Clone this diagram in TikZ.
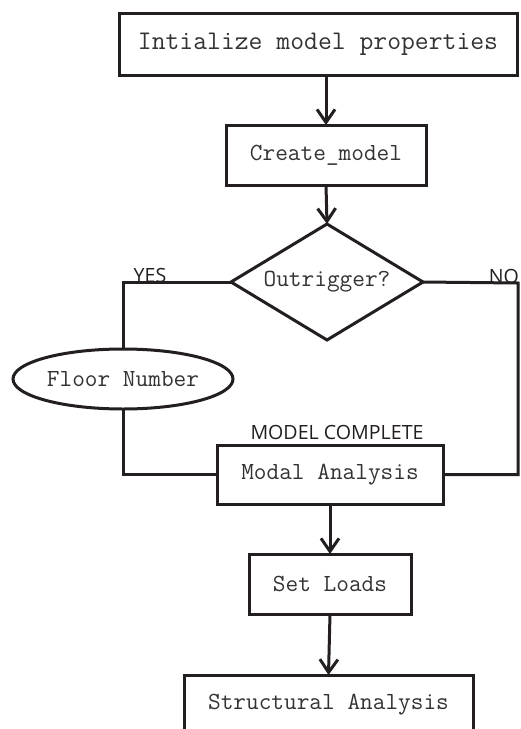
\documentclass[tikz,border=0pt]{standalone}
\usepackage{fontspec}
\setmainfont{Open Sans}
\usetikzlibrary{shapes.geometric,arrows.meta}
\definecolor{ink}{HTML}{231F20}
\definecolor{txt}{HTML}{333333}
\begin{document}
\begin{tikzpicture}[x=1pt,y=-1pt,
  every node/.style={inner sep=0pt, outer sep=0pt},
  box/.style={draw=ink, line width=3pt, fill=white, text=txt, font=\ttfamily\fontsize{24.6}{27}\selectfont, align=center},
  lbl/.style={text=ink, font=\fontsize{19.6}{22}\selectfont},
  conn/.style={draw=ink, line width=3pt},
  arr/.style={conn, -{Straight Barb[length=13pt,width=18pt,line width=3pt]}}]
\useasboundingbox (0,0) rectangle (520,729);
\clip (0,0) rectangle (520,729);
\node[box, minimum width=398pt, minimum height=62pt, font=\ttfamily\fontsize{26.9}{29}\selectfont] (init) at (318,44) {Intialize model properties};
\node[box, minimum width=200pt, minimum height=60pt] (create) at (326,155) {Create\_model};
\node[box, diamond, minimum width=192pt, minimum height=116pt, aspect=1.66] (dec) at (327,282) {Outrigger?};
\node[box, ellipse, minimum width=220pt, minimum height=60pt] (ell) at (123,379) {Floor Number};
\node[box, minimum width=226pt, minimum height=59pt] (modal) at (330,474.5) {Modal Analysis};
\node[box, minimum width=162pt, minimum height=60pt] (loads) at (330,584) {Set Loads};
\node[box, minimum width=289pt, minimum height=60pt] (struct) at (328.5,705) {Structural Analysis};
\coordinate (noc) at (518,283);
\draw[arr] (create.north |- init.south) -- (create.north);
\draw[arr] (create.south) -- (dec.north);
\draw[conn] (dec.west) -| (ell.north);
\draw[conn] (ell.south) |- (modal.west);
\draw[conn] (dec.east) -- (noc) |- (modal.east);
\draw[arr] (modal.south) -- (loads.north);
\draw[arr] (loads.south) -- (struct.north);
\node[lbl, anchor=base] (yes) at (150,282) {YES};
\node[lbl, anchor=base east] (no) at (519,283) {NO};
\node[lbl, anchor=base] (mc) at (337,439) {MODEL COMPLETE};
\end{tikzpicture}
\end{document}
